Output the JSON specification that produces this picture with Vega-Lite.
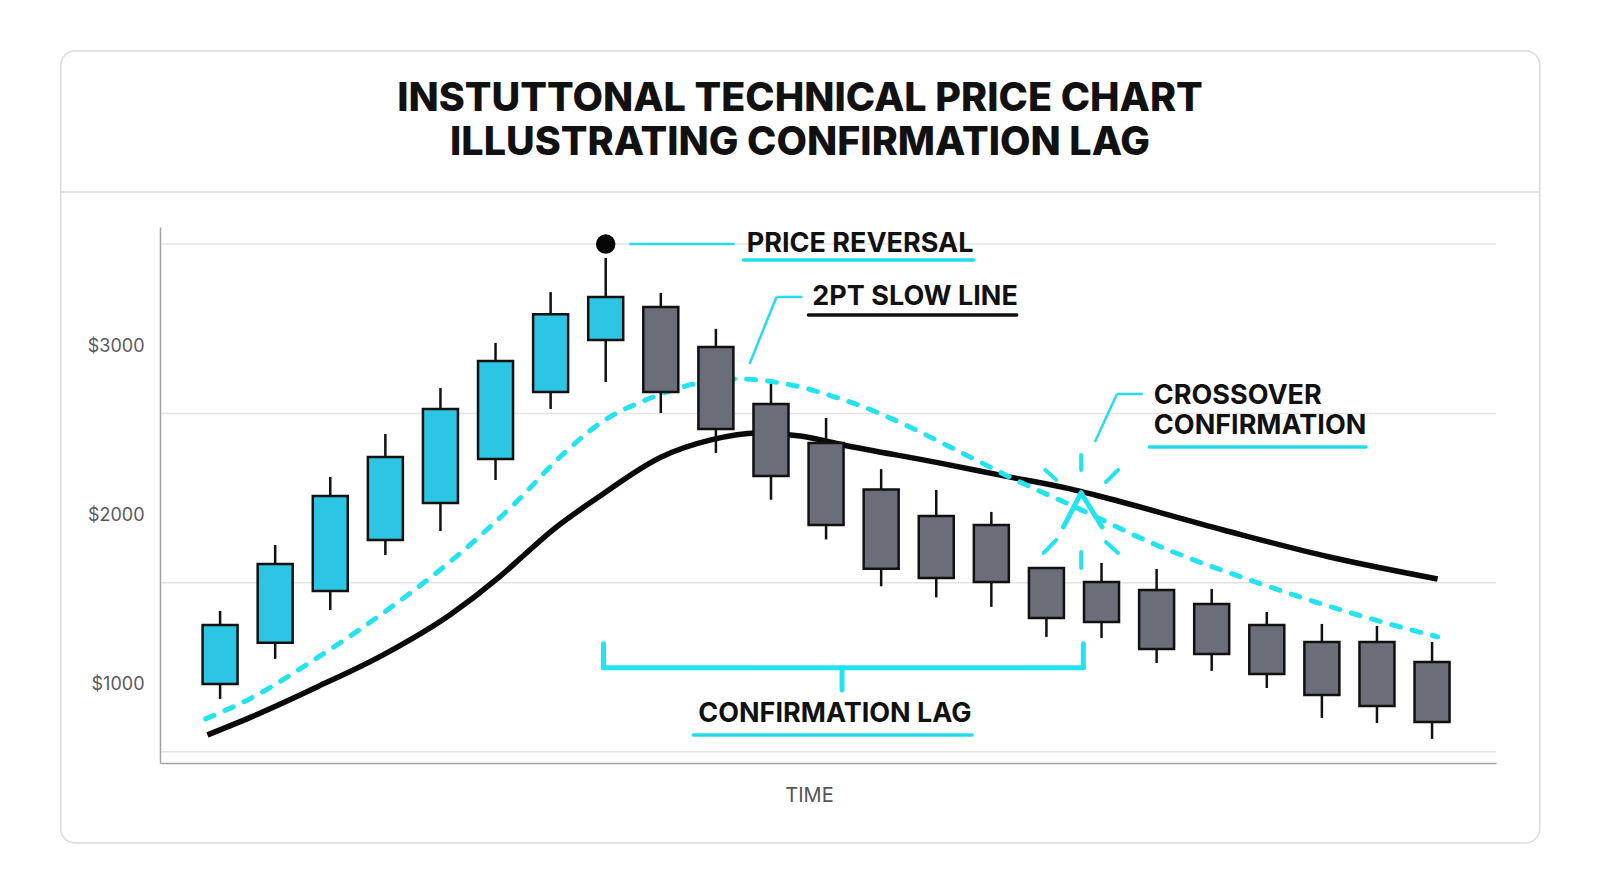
{
  "$schema": "https://vega.github.io/schema/vega-lite/v6.json",
  "width": 1336,
  "height": 536,
  "autosize": {"type": "none"},
  "padding": {"left": 160, "top": 227, "right": 104, "bottom": 130},
  "background": "#ffffff",
  "title": {
    "text": ["INSTUTTONAL TECHNICAL PRICE CHART", "ILLUSTRATING CONFIRMATION LAG"],
    "anchor": "middle",
    "dx": -28,
    "offset": -113,
    "font": "Inter",
    "fontSize": 39.5,
    "fontWeight": 800,
    "color": "#111111",
    "lineHeight": 44
  },
  "datasets": {
    "candles": [
      {"t": 1, "open": 1006, "close": 1355, "high": 1438, "low": 917},
      {"t": 2, "open": 1249, "close": 1716, "high": 1828, "low": 1154},
      {"t": 3, "open": 1556, "close": 2118, "high": 2231, "low": 1444},
      {"t": 4, "open": 1858, "close": 2349, "high": 2485, "low": 1769},
      {"t": 5, "open": 2077, "close": 2633, "high": 2757, "low": 1911},
      {"t": 6, "open": 2337, "close": 2917, "high": 3024, "low": 2213},
      {"t": 7, "open": 2734, "close": 3193, "high": 3325, "low": 2633},
      {"t": 8, "open": 3041, "close": 3296, "high": 3527, "low": 2793},
      {"t": 9, "open": 3237, "close": 2734, "high": 3320, "low": 2609},
      {"t": 10, "open": 3000, "close": 2515, "high": 3107, "low": 2373},
      {"t": 11, "open": 2663, "close": 2237, "high": 2781, "low": 2096},
      {"t": 12, "open": 2432, "close": 1946, "high": 2580, "low": 1861},
      {"t": 13, "open": 2157, "close": 1687, "high": 2277, "low": 1584},
      {"t": 14, "open": 2000, "close": 1633, "high": 2154, "low": 1518},
      {"t": 15, "open": 1947, "close": 1609, "high": 2024, "low": 1462},
      {"t": 16, "open": 1692, "close": 1396, "high": 1692, "low": 1284},
      {"t": 17, "open": 1609, "close": 1373, "high": 1722, "low": 1278},
      {"t": 18, "open": 1562, "close": 1213, "high": 1686, "low": 1130},
      {"t": 19, "open": 1479, "close": 1183, "high": 1568, "low": 1083},
      {"t": 20, "open": 1355, "close": 1065, "high": 1432, "low": 982},
      {"t": 21, "open": 1254, "close": 941, "high": 1361, "low": 805},
      {"t": 22, "open": 1254, "close": 876, "high": 1349, "low": 775},
      {"t": 23, "open": 1136, "close": 781, "high": 1254, "low": 681}
    ],
    "slow": [
      {"t": 0.77, "price": 704}, {"t": 1.57, "price": 811}, {"t": 2.76, "price": 988},
      {"t": 3.96, "price": 1178}, {"t": 5.17, "price": 1414}, {"t": 6.07, "price": 1639},
      {"t": 6.52, "price": 1769}, {"t": 6.97, "price": 1899}, {"t": 7.87, "price": 2112},
      {"t": 9.01, "price": 2349}, {"t": 9.91, "price": 2450}, {"t": 10.76, "price": 2491},
      {"t": 11.53, "price": 2473}, {"t": 12.31, "price": 2420}, {"t": 14.05, "price": 2314},
      {"t": 15.23, "price": 2237}, {"t": 16.43, "price": 2160}, {"t": 16.88, "price": 2124},
      {"t": 19.21, "price": 1917}, {"t": 21.14, "price": 1757}, {"t": 23.1, "price": 1627}
    ],
    "fast": [
      {"t": 0.74, "price": 799}, {"t": 1.57, "price": 923}, {"t": 2.76, "price": 1160},
      {"t": 3.96, "price": 1426}, {"t": 5.17, "price": 1728}, {"t": 6.36, "price": 2077},
      {"t": 7.21, "price": 2361}, {"t": 7.93, "price": 2556}, {"t": 8.77, "price": 2692},
      {"t": 9.6, "price": 2781}, {"t": 10.4, "price": 2811}, {"t": 11.17, "price": 2787},
      {"t": 12.43, "price": 2675}, {"t": 14.65, "price": 2343}, {"t": 15.33, "price": 2231},
      {"t": 16.63, "price": 2036}, {"t": 17.91, "price": 1840}, {"t": 19.84, "price": 1604},
      {"t": 21.78, "price": 1402}, {"t": 23.1, "price": 1284}
    ],
    "grid": [{"price": 605}, {"price": 1605}, {"price": 2607}, {"price": 3609}],
    "peak": [{"t": 8, "price": 3609}],
    "leaders": [
      {"t": 8.43, "price": 3609, "t2": 10.34, "price2": 3609},
      {"t": 10.61, "price": 2899, "t2": 11.1, "price2": 3296},
      {"t": 11.1, "price": 3296, "t2": 11.57, "price2": 3296},
      {"t": 16.88, "price": 2438, "t2": 17.28, "price2": 2722},
      {"t": 17.28, "price": 2722, "t2": 17.75, "price2": 2722}
    ],
    "underlines": [
      {"t": 10.5, "price": 3515, "t2": 14.68, "price2": 3515},
      {"t": 17.87, "price": 2408, "t2": 21.8, "price2": 2408},
      {"t": 9.59, "price": 704, "t2": 14.65, "price2": 704}
    ],
    "slowUnderline": [
      {"t": 11.68, "price": 3189, "t2": 15.46, "price2": 3189}
    ],
    "bracket": [
      {"t": 7.96, "price": 1243, "t2": 7.96, "price2": 1101},
      {"t": 7.96, "price": 1101, "t2": 16.67, "price2": 1101},
      {"t": 16.67, "price": 1243, "t2": 16.67, "price2": 1101},
      {"t": 12.29, "price": 1101, "t2": 12.29, "price2": 970}
    ],
    "marker": [
      {"t": 16.31, "price": 1935, "t2": 16.63, "price2": 2136},
      {"t": 16.63, "price": 2136, "t2": 17.01, "price2": 1935}
    ],
    "rays": [
      {"t": 16.63, "price": 2361, "t2": 16.63, "price2": 2272},
      {"t": 16.63, "price": 1787, "t2": 16.63, "price2": 1692},
      {"t": 15.98, "price": 2272, "t2": 16.18, "price2": 2213},
      {"t": 17.08, "price": 2201, "t2": 17.3, "price2": 2272},
      {"t": 15.95, "price": 1781, "t2": 16.18, "price2": 1858},
      {"t": 17.08, "price": 1846, "t2": 17.3, "price2": 1781}
    ],
    "notes": [
      {"t": 10.56, "price": 3609, "label": "PRICE REVERSAL"},
      {"t": 11.75, "price": 3296, "label": "2PT SLOW LINE"},
      {"t": 17.95, "price": 2710, "label": "CROSSOVER"},
      {"t": 17.95, "price": 2533, "label": "CONFIRMATION"},
      {"t": 9.68, "price": 828, "label": "CONFIRMATION LAG"}
    ]
  },
  "layer": [
    {
      "data": {"values": [{}]},
      "mark": {"type": "rect", "cornerRadius": 14, "fillOpacity": 0, "stroke": "#dadada", "strokeWidth": 1.5},
      "encoding": {
        "x": {"datum": -1.892, "type": "quantitative", "scale": {"domain": [0, 24.07], "nice": false, "zero": false}},
        "x2": {"datum": 24.955},
        "y": {"datum": 4751, "type": "quantitative", "scale": {"domain": [538, 3710], "nice": false, "zero": false}},
        "y2": {"datum": 65}
      }
    },
    {
      "data": {"values": [{}]},
      "mark": {"type": "rule", "color": "#dadada", "strokeWidth": 1.5},
      "encoding": {
        "x": {"datum": -1.892, "type": "quantitative"},
        "x2": {"datum": 24.955},
        "y": {"datum": 3917, "type": "quantitative"}
      }
    },
    {
      "data": {"name": "grid"},
      "mark": {"type": "rule", "color": "#e4e4e4", "strokeWidth": 1.5},
      "encoding": {"y": {"field": "price", "type": "quantitative"}}
    },
    {
      "data": {"name": "slow"},
      "mark": {"type": "line", "color": "#0a0a0a", "strokeWidth": 5.5, "interpolate": "monotone"},
      "encoding": {
        "x": {"field": "t", "type": "quantitative"},
        "y": {"field": "price", "type": "quantitative"}
      }
    },
    {
      "data": {"name": "fast"},
      "mark": {"type": "line", "color": "#25e2ef", "strokeWidth": 5, "strokeDash": [9, 12], "strokeCap": "round", "interpolate": "monotone"},
      "encoding": {
        "x": {"field": "t", "type": "quantitative"},
        "y": {"field": "price", "type": "quantitative"}
      }
    },
    {
      "data": {"name": "candles"},
      "mark": {"type": "rule", "color": "#111111", "strokeWidth": 2.5},
      "encoding": {
        "x": {"field": "t", "type": "quantitative"},
        "y": {"field": "low", "type": "quantitative"},
        "y2": {"field": "high"}
      }
    },
    {
      "data": {"name": "candles"},
      "mark": {"type": "bar", "size": 35, "stroke": "#111111", "strokeWidth": 2.5},
      "encoding": {
        "x": {
          "field": "t", "type": "quantitative", "title": "TIME",
          "scale": {"domain": [0, 24.07], "nice": false, "zero": false},
          "axis": {"labels": false, "ticks": false, "grid": false, "title": "TIME", "zindex": 1}
        },
        "y": {
          "field": "open", "type": "quantitative", "title": null,
          "scale": {"domain": [538, 3710], "nice": false, "zero": false},
          "axis": {"values": [1000, 2000, 3000], "labelExpr": "'$' + datum.value", "grid": false, "ticks": false, "title": null, "zindex": 1}
        },
        "y2": {"field": "close"},
        "color": {"condition": {"test": "datum.close > datum.open", "value": "#2cc6e4"}, "value": "#6b6e79"}
      }
    },
    {
      "data": {"name": "peak"},
      "mark": {"type": "point", "filled": true, "size": 380, "color": "#050505", "opacity": 1},
      "encoding": {
        "x": {"field": "t", "type": "quantitative"},
        "y": {"field": "price", "type": "quantitative"}
      }
    },
    {
      "data": {"name": "leaders"},
      "mark": {"type": "rule", "color": "#25dcec", "strokeWidth": 2.5},
      "encoding": {
        "x": {"field": "t", "type": "quantitative"},
        "x2": {"field": "t2"},
        "y": {"field": "price", "type": "quantitative"},
        "y2": {"field": "price2"}
      }
    },
    {
      "data": {"name": "underlines"},
      "mark": {"type": "rule", "color": "#25dcec", "strokeWidth": 3.5, "strokeCap": "round"},
      "encoding": {
        "x": {"field": "t", "type": "quantitative"},
        "x2": {"field": "t2"},
        "y": {"field": "price", "type": "quantitative"},
        "y2": {"field": "price2"}
      }
    },
    {
      "data": {"name": "slowUnderline"},
      "mark": {"type": "rule", "color": "#111111", "strokeWidth": 3.5, "strokeCap": "round"},
      "encoding": {
        "x": {"field": "t", "type": "quantitative"},
        "x2": {"field": "t2"},
        "y": {"field": "price", "type": "quantitative"},
        "y2": {"field": "price2"}
      }
    },
    {
      "data": {"name": "bracket"},
      "mark": {"type": "rule", "color": "#22e3f0", "strokeWidth": 5, "strokeCap": "round"},
      "encoding": {
        "x": {"field": "t", "type": "quantitative"},
        "x2": {"field": "t2"},
        "y": {"field": "price", "type": "quantitative"},
        "y2": {"field": "price2"}
      }
    },
    {
      "data": {"name": "marker"},
      "mark": {"type": "rule", "color": "#22e3f0", "strokeWidth": 5, "strokeCap": "round"},
      "encoding": {
        "x": {"field": "t", "type": "quantitative"},
        "x2": {"field": "t2"},
        "y": {"field": "price", "type": "quantitative"},
        "y2": {"field": "price2"}
      }
    },
    {
      "data": {"name": "rays"},
      "mark": {"type": "rule", "color": "#22e3f0", "strokeWidth": 4, "strokeCap": "round"},
      "encoding": {
        "x": {"field": "t", "type": "quantitative"},
        "x2": {"field": "t2"},
        "y": {"field": "price", "type": "quantitative"},
        "y2": {"field": "price2"}
      }
    },
    {
      "data": {"name": "notes"},
      "mark": {"type": "text", "align": "left", "baseline": "middle", "font": "Inter", "fontSize": 27, "fontWeight": 700, "color": "#111111"},
      "encoding": {
        "x": {"field": "t", "type": "quantitative"},
        "y": {"field": "price", "type": "quantitative"},
        "text": {"field": "label"}
      }
    }
  ],
  "config": {
    "view": {"stroke": null},
    "axis": {
      "domainColor": "#a3a3a3",
      "domainWidth": 1.5,
      "labelFont": "Inter",
      "titleFont": "Inter"
    },
    "axisY": {
      "labelFontSize": 18,
      "labelColor": "#5a5a5a",
      "labelPadding": 16
    },
    "axisX": {
      "titleFontSize": 20,
      "titleFontWeight": "normal",
      "titleColor": "#555555",
      "titlePadding": 22,
      "titleX": 649
    }
  }
}
